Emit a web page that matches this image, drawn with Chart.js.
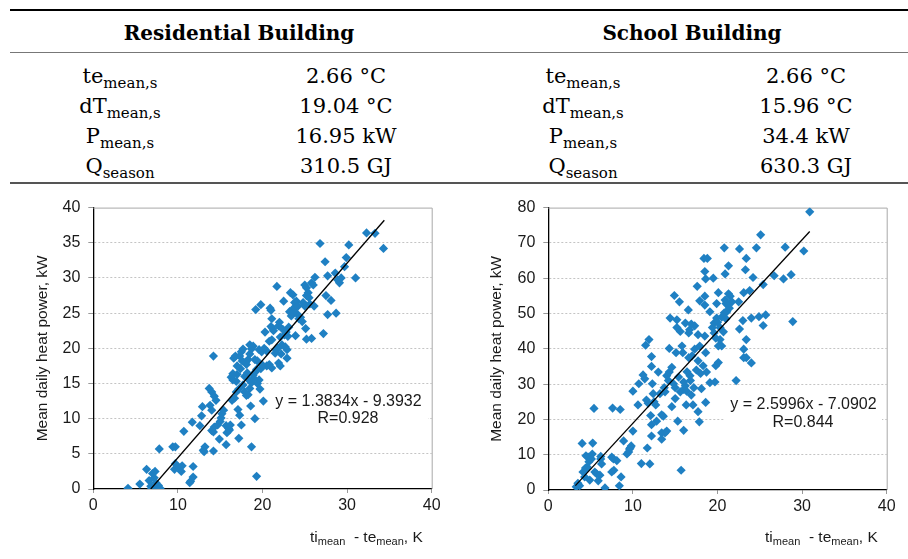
<!DOCTYPE html>
<html><head><meta charset="utf-8">
<script src="https://cdn.jsdelivr.net/npm/chart.js@4.4.0/dist/chart.umd.min.js"></script>
<style>
html,body{margin:0;padding:0;background:#fff;}
body{width:908px;height:559px;position:relative;overflow:hidden;font-family:"DejaVu Serif",serif;color:#000;}
.rule{position:absolute;}
.hdr{position:absolute;font-weight:bold;font-size:20px;line-height:20px;transform:translateX(-50%);white-space:nowrap;}
.cell{position:absolute;font-size:21px;line-height:21px;transform:translateX(-50%);white-space:nowrap;}
.cell span{font-size:15px;line-height:15px;position:relative;top:5px;}
canvas{position:absolute;top:190px;}
</style>
</head><body>
<div class="rule" style="left:10px;right:0;top:9px;height:2px;background:#000"></div>
<div class="rule" style="left:10px;right:0;top:52px;height:1px;background:#777"></div>
<div class="rule" style="left:10px;right:0;top:182px;height:2px;background:#555"></div>
<div id="tbl"></div>
<canvas id="c1" width="454" height="369" style="left:0"></canvas>
<canvas id="c2" width="454" height="369" style="left:454px"></canvas>
<script>
// ---- table data ----
const buildingTitles = ['Residential Building', 'School Building'];
const rowLabels = [['te', 'mean,s'], ['dT', 'mean,s'], ['P', 'mean,s'], ['Q', 'season']];
const residentialValues = ['2.66 °C', '19.04 °C', '16.95 kW', '310.5 GJ'];
const schoolValues = ['2.66 °C', '15.96 °C', '34.4 kW', '630.3 GJ'];

// ---- chart data ----
const xTickValues = [0, 10, 20, 30, 40];
const residentialYTicks = [0, 5, 10, 15, 20, 25, 30, 35, 40];
const schoolYTicks = [0, 10, 20, 30, 40, 50, 60, 70, 80];
const residentialEquation = ['y = 1.3834x - 9.3932', 'R=0.928'];
const schoolEquation = ['y = 2.5996x - 7.0902', 'R=0.844'];
const residentialTrend = [[6.79, 0], [34.4, 38.2]];
const schoolTrend = [[3.2, 1.23], [30.9, 73.24]];

const residentialPoints = [
[4.1,0.1],[5.5,0.7],[6.3,2.8],[6.6,1.2],[6.8,0.4],[6.9,0.1],[7.0,2.2],[7.2,1.6],[7.3,2.5],[7.4,0.9],
[7.5,0.3],[7.7,0.5],[7.9,0.1],[7.8,5.7],[9.4,6.0],[9.7,6.0],[9.7,3.6],[9.6,2.8],[10.0,3.2],[10.5,3.3],
[10.4,2.5],[10.7,8.2],[11.7,9.5],[11.8,3.2],[11.8,1.7],[11.5,1.1],[11.4,0.9],[12.6,9.0],[12.8,10.4],[12.9,11.7],
[13.0,5.5],[13.2,6.0],[13.1,5.3],[13.7,14.3],[14.0,13.8],[13.8,11.9],[14.0,11.2],[14.2,18.9],[14.2,5.4],[14.3,13.2],
[14.5,12.6],[14.0,8.3],[14.2,8.1],[14.3,8.8],[14.7,9.1],[15.0,9.6],[14.9,7.1],[15.1,10.1],[15.2,10.7],[15.4,11.2],
[15.7,6.3],[15.7,9.0],[15.8,8.0],[16.0,8.6],[16.1,8.4],[16.2,9.1],[16.3,15.9],[16.5,15.5],[16.4,12.6],[16.7,12.9],
[16.6,18.6],[16.8,18.9],[16.9,13.8],[17.1,11.3],[17.3,10.5],[17.2,7.2],[17.4,17.1],[17.5,9.1],[17.7,14.8],[17.9,13.8],
[17.5,19.5],[17.7,19.9],[17.3,18.9],[18.1,17.7],[18.3,18.4],[18.5,19.2],[18.7,19.9],[18.5,20.5],[18.3,13.4],[18.5,14.3],
[18.1,13.3],[18.7,6.0],[18.6,11.8],[18.7,15.1],[19.1,10.0],[19.3,1.8],[19.4,15.0],[19.6,15.5],[19.8,17.1],[19.1,18.4],
[19.3,17.0],[19.0,15.7],[19.7,14.2],[20.1,12.5],[19.9,19.5],[19.4,18.2],[18.9,16.2],[18.2,16.5],[17.9,16.0],[17.0,17.5],
[17.2,14.2],[16.9,15.3],[19.2,25.5],[19.8,26.2],[20.3,22.3],[20.5,17.5],[20.8,17.7],[21.1,17.2],[20.9,25.7],[21.0,25.4],
[21.1,24.2],[21.2,22.8],[21.0,23.1],[21.1,21.2],[21.3,22.5],[21.5,19.3],[21.7,28.8],[21.9,23.2],[22.0,23.7],[22.1,21.6],
[21.9,17.9],[22.1,17.5],[21.8,20.0],[22.3,20.5],[22.6,21.9],[22.5,26.7],[22.7,20.2],[22.9,19.8],[22.9,18.6],[23.1,23.0],
[23.3,27.9],[23.6,27.6],[23.4,24.6],[23.6,25.6],[23.2,25.2],[23.8,26.5],[24.0,26.7],[23.9,21.8],[24.0,25.0],[24.3,24.2],
[24.5,24.4],[24.7,23.8],[25.0,29.0],[25.2,28.6],[25.1,22.8],[25.2,21.3],[25.4,27.9],[25.5,27.2],[25.2,27.5],[25.6,26.3],
[25.8,21.4],[25.8,29.3],[26.0,29.0],[26.2,30.1],[26.1,26.0],[26.8,34.9],[27.2,22.1],[27.4,32.3],[27.5,27.5],[27.7,24.8],
[27.7,30.3],[28.1,26.8],[28.6,30.7],[28.7,25.0],[28.9,29.7],[29.1,29.3],[29.3,30.0],[29.7,31.6],[29.9,32.9],[30.2,34.7],
[31.0,30.0],[32.3,36.4],[33.3,36.35],[34.3,34.2],[23.5,24.9],[24.2,26.0],[24.8,26.5],[25.0,26.0],[22.8,22.3],[22.4,22.7],
[23.0,21.7],[20.5,19.6],[20.2,20.0],[20.8,21.0],[21.6,19.8],[22.2,19.2],[20.0,17.6],[19.6,19.8],[18.9,20.3],[18.0,18.0],
[17.6,18.2],[17.0,16.3],[16.5,16.4],[18.4,15.5],[19.2,16.7]
];

const schoolPoints = [
[3.3,0.9],[3.5,1.9],[3.7,1.2],[4.0,13.2],[4.1,5.1],[4.3,3.7],[4.45,9.7],[4.5,6.0],[4.7,9.3],[4.9,2.8],
[4.6,6.5],[5.1,8.8],[5.2,10.2],[5.25,13.3],[5.4,23.1],[5.5,5.1],[5.7,4.6],[5.9,2.6],[6.1,4.2],[6.2,8.8],
[6.3,7.4],[6.2,9.5],[6.7,0.6],[7.5,9.3],[7.7,8.8],[7.6,23.2],[7.5,5.1],[7.75,5.6],[8.1,8.3],[8.4,1.2],
[8.5,22.8],[8.6,3.7],[8.9,13.9],[9.3,10.2],[9.6,11.6],[9.8,12.5],[9.5,10.8],[10.0,16.7],[10.0,28.0],[10.6,24.1],
[10.7,30.1],[11.0,7.5],[11.2,32.6],[11.4,31.5],[11.5,41.0],[11.6,25.5],[11.8,24.6],[11.7,11.9],[11.9,42.6],[12.0,7.4],
[12.1,21.1],[12.2,18.5],[12.2,35.0],[12.2,37.8],[12.2,15.3],[12.4,27.3],[12.3,30.1],[12.7,24.1],[12.8,19.5],[13.0,33.4],
[13.2,27.3],[13.4,14.4],[13.4,21.3],[13.6,20.9],[13.4,16.2],[13.8,16.2],[14.0,16.7],[13.8,27.8],[14.0,32.4],[14.3,33.4],
[14.3,40.1],[14.4,48.7],[14.6,23.6],[14.6,34.75],[14.8,30.1],[14.9,55.1],[15.1,38.9],[15.0,25.9],[15.2,48.2],[15.3,19.5],
[15.4,32.0],[15.5,53.3],[15.6,44.9],[15.6,27.8],[15.7,5.6],[15.8,40.8],[15.9,38.9],[16.0,16.9],[16.0,28.5],[16.2,29.5],
[16.0,30.6],[16.35,28.0],[16.2,47.3],[16.3,24.1],[16.55,51.0],[16.6,44.5],[16.7,45.4],[16.6,37.5],[17.0,38.0],[16.75,32.4],
[16.9,26.9],[17.1,24.1],[17.3,39.9],[17.6,57.7],[17.7,36.6],[17.7,22.2],[17.85,19.3],[17.9,53.6],[17.7,44.0],[17.9,40.8],
[18.1,28.7],[18.3,35.2],[18.4,65.6],[18.8,65.6],[18.5,61.9],[18.5,54.9],[18.6,59.8],[18.6,24.8],[18.5,52.4],[18.5,43.6],
[18.6,38.9],[18.7,33.4],[19.1,30.4],[19.1,50.5],[19.4,46.0],[19.6,47.3],[19.9,48.7],[19.5,60.0],[19.7,30.6],[19.8,35.2],
[19.9,52.8],[20.1,55.9],[20.1,40.8],[20.1,36.1],[20.3,42.6],[20.5,40.8],[20.8,68.6],[20.9,61.2],[21.0,52.8],[21.3,55.6],
[21.1,50.5],[21.3,63.5],[21.5,54.9],[21.7,53.3],[22.2,31.0],[22.5,53.3],[22.6,68.3],[22.6,45.6],[23.0,48.0],[23.1,39.9],
[23.1,55.9],[23.3,62.4],[23.1,37.5],[23.4,65.6],[23.4,42.6],[23.4,37.5],[23.8,56.5],[24.0,36.0],[24.0,48.7],[24.2,60.2],
[24.6,68.6],[24.9,49.1],[25.1,72.3],[25.4,58.2],[25.4,46.6],[25.7,49.6],[26.7,60.7],[27.8,59.8],[28.0,68.8],[28.7,61.0],
[28.9,47.7],[30.2,67.7],[30.9,78.8],[20.0,47.5],[20.5,49.0],[20.8,50.2],[21.0,48.5],[20.3,46.0],[19.6,44.5],[19.8,43.0],
[20.7,44.8],[21.2,52.5],[20.9,53.8],[21.4,51.5],[16.8,31.0],[17.2,29.0],[15.0,29.0],[16.4,33.5],[17.5,34.0],[18.0,33.0],
[15.2,46.0],[16.9,47.0],[17.3,46.5],[12.5,25.0],[14.2,31.0],[13.7,29.0],[9.7,12.0],[4.8,8.0],[4.4,6.2]
];

// ---- build table ----
const tbl = document.getElementById('tbl');
function addDiv(cls, left, top, html) {
  const d = document.createElement('div');
  d.className = cls; d.style.left = left + 'px'; d.style.top = top + 'px';
  d.innerHTML = html; tbl.appendChild(d);
}
const headerCenters = [239, 692];
const labelCenters = [120, 583];
const valueCenters = [346, 806];
const rowTops = [65.5, 95.5, 125.5, 155.5];
[residentialValues, schoolValues].forEach((vals, b) => {
  addDiv('hdr', headerCenters[b], 22.5, buildingTitles[b]);
  rowLabels.forEach((lab, r) => {
    addDiv('cell', labelCenters[b], rowTops[r], lab[0] + '<span>' + lab[1] + '</span>');
    addDiv('cell', valueCenters[b], rowTops[r], vals[r]);
  });
});

// ---- charts ----
const FONT = '"Liberation Sans", Arial, sans-serif';
const PT_COLOR = '#1f80c3';

function makeChart(id, points, trend, yTicks, equation, geo) {
  const yMax = yTicks[yTicks.length - 1];
  const yStep = yTicks[1] - yTicks[0];
  const decor = {
    id: 'decor' + id,
    beforeDatasetsDraw(chart) {
      const ctx = chart.ctx, a = chart.chartArea;
      ctx.save();
      ctx.strokeStyle = '#a8a8a8'; ctx.lineWidth = 1;
      ctx.beginPath();
      ctx.moveTo(a.left, a.top + 0.5); ctx.lineTo(a.right + 0.5, a.top + 0.5);
      ctx.lineTo(a.right + 0.5, a.bottom);
      ctx.stroke();
      // equation box
      ctx.fillStyle = '#fff';
      ctx.fillRect(geo.box[0], geo.box[1], geo.box[2], geo.box[3]);
      ctx.fillStyle = '#1a1a1a';
      ctx.font = '16px ' + FONT;
      ctx.textAlign = 'center'; ctx.textBaseline = 'alphabetic';
      ctx.fillText(equation[0], geo.eq[0], geo.eq[1]);
      ctx.fillText(equation[1], geo.eq[2], geo.eq[3]);
      ctx.restore();
    },
    afterDraw(chart) {
      const ctx = chart.ctx;
      ctx.save();
      ctx.fillStyle = '#1a1a1a';
      ctx.textAlign = 'left'; ctx.textBaseline = 'alphabetic';
      let x = geo.xt[0]; const y = geo.xt[1];
      const parts = [['ti', 0], ['mean', 1], ['  - te', 0], ['mean', 1], [', K', 0]];
      parts.forEach(([t, sub]) => {
        ctx.font = (sub ? '11px ' : '15.5px ') + FONT;
        ctx.fillText(t, x, y + (sub ? 3 : 0));
        x += ctx.measureText(t).width;
      });
      ctx.restore();
    }
  };
  return new Chart(document.getElementById(id), {
    type: 'scatter',
    data: {
      datasets: [
        {
          type: 'line',
          data: trend.map(p => ({x: p[0], y: p[1]})),
          borderColor: '#000', borderWidth: 1.3, pointRadius: 0, fill: false, tension: 0
        },
        {
          data: points.map(p => ({x: p[0], y: p[1]})),
          pointStyle: 'rectRot', pointRadius: 4.6, pointBorderWidth: 0,
          backgroundColor: PT_COLOR, borderColor: PT_COLOR
        }
      ]
    },
    options: {
      responsive: false, animation: false, devicePixelRatio: 1,
      layout: {padding: {left: 33, top: geo.top, right: geo.right, bottom: 0}},
      plugins: {legend: {display: false}, tooltip: {enabled: false}},
      scales: {
        x: {
          type: 'linear', min: 0, max: 40,
          afterBuildTicks: s => { s.ticks = xTickValues.map(v => ({value: v})); },
          ticks: {font: {family: FONT, size: 16}, color: '#1a1a1a', padding: 3, maxRotation: 0},
          grid: {drawOnChartArea: false, drawTicks: true, tickLength: 4, tickColor: '#999', tickWidth: 1},
          border: {color: '#000', width: 1.3},
          afterFit: s => { s.height = geo.xh; }
        },
        y: {
          type: 'linear', min: 0, max: yMax,
          afterBuildTicks: s => { s.ticks = yTicks.map(v => ({value: v})); },
          ticks: {font: {family: FONT, size: 16}, color: '#1a1a1a', padding: 8, stepSize: yStep},
          grid: {
            color: c => (c.tick && (c.tick.value === 0 || c.tick.value === yMax)) ? 'rgba(0,0,0,0)' : '#c4c4c4',
            lineWidth: 1, drawTicks: true, tickLength: 5, tickColor: '#999'
          },
          border: {color: '#000', width: 1.3, dash: [2, 2]},
          title: {display: true, text: 'Mean daily heat power, kW', color: '#1a1a1a',
                  font: {family: FONT, size: 15.5}, padding: {top: 0, bottom: 0}},
          afterFit: s => { s.width = geo.yw; }
        }
      }
    },
    plugins: [decor]
  });
}

makeChart('c1', residentialPoints, residentialTrend, residentialYTicks, residentialEquation, {
  top: 11, right: 22.3, yw: 60.3, xh: 70,
  box: [270, 202, 158, 37], eq: [348.5, 216, 348, 233.3], xt: [310, 351.7]
});
makeChart('c2', schoolPoints, schoolTrend, schoolYTicks, schoolEquation, {
  top: 12.3, right: 21.3, yw: 61.3, xh: 69,
  box: [271, 205, 157, 38], eq: [349.5, 219, 349, 237.3], xt: [311, 351.7]
});
</script>
</body></html>
